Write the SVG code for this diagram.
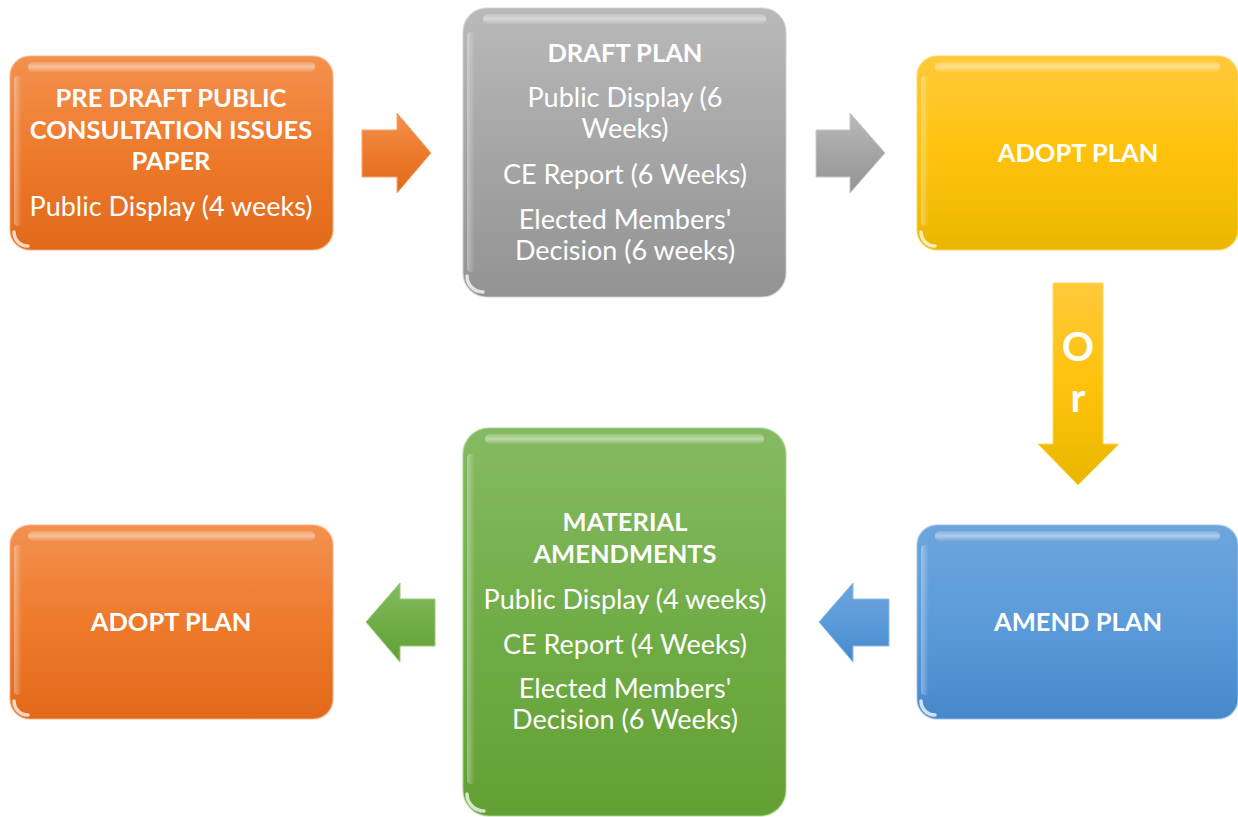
<svg xmlns="http://www.w3.org/2000/svg" width="1238" height="817" viewBox="0 0 1238 817">
  <defs>
    <linearGradient id="gOrange" x1="0" y1="0" x2="0" y2="1">
      <stop offset="0" stop-color="#F3914F"/>
      <stop offset="0.5" stop-color="#EE7A2C"/>
      <stop offset="1" stop-color="#E2691A"/>
    </linearGradient>
    <linearGradient id="gGray" x1="0" y1="0" x2="0" y2="1">
      <stop offset="0" stop-color="#B9B9B9"/>
      <stop offset="0.5" stop-color="#A5A5A5"/>
      <stop offset="1" stop-color="#939393"/>
    </linearGradient>
    <linearGradient id="gYellow" x1="0" y1="0" x2="0" y2="1">
      <stop offset="0" stop-color="#FFC93A"/>
      <stop offset="0.5" stop-color="#FFC20C"/>
      <stop offset="1" stop-color="#E9B700"/>
    </linearGradient>
    <linearGradient id="gBlue" x1="0" y1="0" x2="0" y2="1">
      <stop offset="0" stop-color="#6DA5DC"/>
      <stop offset="0.5" stop-color="#5B9BD9"/>
      <stop offset="1" stop-color="#4688CB"/>
    </linearGradient>
    <linearGradient id="gGreen" x1="0" y1="0" x2="0" y2="1">
      <stop offset="0" stop-color="#86BA62"/>
      <stop offset="0.5" stop-color="#71AD47"/>
      <stop offset="1" stop-color="#62A033"/>
    </linearGradient>
    <linearGradient id="gShine" x1="0" y1="0" x2="0" y2="1">
      <stop offset="0" stop-color="#FFFFFF" stop-opacity="0.15"/>
      <stop offset="0.5" stop-color="#FFFFFF" stop-opacity="0.45"/>
      <stop offset="1" stop-color="#FFFFFF" stop-opacity="0.05"/>
    </linearGradient>
    <linearGradient id="gSide" x1="0" y1="0" x2="1" y2="0">
      <stop offset="0" stop-color="#FFFFFF" stop-opacity="0.35"/>
      <stop offset="1" stop-color="#FFFFFF" stop-opacity="0"/>
    </linearGradient>
  </defs>
  <style>
    text { font-family: Lato, "Open Sans", "Liberation Sans", sans-serif; fill: #FFFFFF; text-anchor: middle; }
    .h { font-weight: bold; font-size: 25.5px; }
    .t { font-size: 27px; }
    .or { font-weight: bold; font-size: 40px; }
    .edge { fill: none; stroke-width: 1.5; stroke-opacity: 0.6; }
    .shine { fill: url(#gShine); }
    .side { fill: url(#gSide); }
    .spot { fill: none; stroke: #FFFFFF; stroke-width: 3.5; stroke-opacity: 0.75; stroke-linecap: round; }
  </style>

  <rect width="1238" height="817" fill="#FFFFFF"/>

  <!-- connectors -->
  <g id="connectors">
    <path d="M362,130 H397 V113 L431,153 L397,193 V177 H362 Z" fill="url(#gOrange)" stroke="#F6A56C" stroke-width="1"/>
    <path d="M816,130 H850 V113 L885,153 L850,193 V177 H816 Z" fill="url(#gGray)" stroke="#C8C8C8" stroke-width="1"/>
    <path d="M1053,283 H1103 V444 H1119 L1078,485 L1038,444 H1053 Z" fill="url(#gYellow)" stroke="#FFD85A" stroke-width="1"/>
    <text class="or" x="1078" y="361">O</text>
    <text class="or" x="1078" y="412">r</text>
    <path d="M889,599 H853 V583 L819,622 L853,662 V646 H889 Z" fill="url(#gBlue)" stroke="#8DBBE8" stroke-width="1"/>
    <path d="M435,599 H400 V583 L366,622 L400,662 V646 H435 Z" fill="url(#gGreen)" stroke="#9CCB7C" stroke-width="1"/>
  </g>

  <!-- pre-draft consultation -->
  <g id="pre-draft">
    <rect x="10" y="56" width="323" height="194" rx="20" fill="url(#gOrange)"/>
    <rect x="10" y="56" width="323" height="194" rx="20" class="edge" stroke="#F7B384"/>
    <rect x="28" y="62" width="287" height="10" rx="5" class="shine"/>
    <rect x="14" y="76" width="8" height="150" rx="4" class="side"/>
    <path d="M14,232 A14,14 0 0 0 28,246" class="spot"/>
    <text class="h" x="171" y="107">PRE DRAFT PUBLIC</text>
    <text class="h" x="171" y="139">CONSULTATION ISSUES</text>
    <text class="h" x="171" y="170">PAPER</text>
    <text class="t" x="171" y="216">Public Display (4 weeks)</text>
  </g>

  <!-- draft plan -->
  <g id="draft-plan">
    <rect x="463" y="8" width="323" height="289" rx="24" fill="url(#gGray)"/>
    <rect x="463" y="8" width="323" height="289" rx="24" class="edge" stroke="#D0D0D0"/>
    <rect x="483" y="14" width="283" height="10" rx="5" class="shine"/>
    <rect x="467" y="32" width="8" height="240" rx="4" class="side"/>
    <path d="M467,276 A16,16 0 0 0 483,292" class="spot"/>
    <text class="h" x="625" y="62">DRAFT PLAN</text>
    <text class="t" x="625" y="107">Public Display (6</text>
    <text class="t" x="625" y="138">Weeks)</text>
    <text class="t" x="625" y="184">CE Report (6 Weeks)</text>
    <text class="t" x="625" y="229">Elected Members'</text>
    <text class="t" x="625" y="260">Decision (6 weeks)</text>
  </g>

  <!-- adopt plan (top) -->
  <g id="adopt-plan-top">
    <rect x="917" y="56" width="321" height="194" rx="20" fill="url(#gYellow)"/>
    <rect x="917" y="56" width="321" height="194" rx="20" class="edge" stroke="#FFD65A"/>
    <rect x="935" y="62" width="285" height="10" rx="5" class="shine"/>
    <rect x="921" y="76" width="8" height="150" rx="4" class="side"/>
    <path d="M921,232 A14,14 0 0 0 935,246" class="spot"/>
    <text class="h" x="1078" y="162">ADOPT PLAN</text>
  </g>

  <!-- amend plan -->
  <g id="amend-plan">
    <rect x="917" y="525" width="321" height="194" rx="20" fill="url(#gBlue)"/>
    <rect x="917" y="525" width="321" height="194" rx="20" class="edge" stroke="#9CC4EC"/>
    <rect x="935" y="531" width="285" height="10" rx="5" class="shine"/>
    <rect x="921" y="545" width="8" height="150" rx="4" class="side"/>
    <path d="M921,701 A14,14 0 0 0 935,715" class="spot"/>
    <text class="h" x="1078" y="631">AMEND PLAN</text>
  </g>

  <!-- material amendments -->
  <g id="material-amendments">
    <rect x="463" y="428" width="323" height="388" rx="26" fill="url(#gGreen)"/>
    <rect x="463" y="428" width="323" height="388" rx="26" class="edge" stroke="#A8D48A"/>
    <rect x="485" y="434" width="279" height="10" rx="5" class="shine"/>
    <rect x="467" y="454" width="8" height="330" rx="4" class="side"/>
    <path d="M467,794 A17,17 0 0 0 484,811" class="spot"/>
    <text class="h" x="625" y="531">MATERIAL</text>
    <text class="h" x="625" y="563">AMENDMENTS</text>
    <text class="t" x="625" y="609">Public Display (4 weeks)</text>
    <text class="t" x="625" y="654">CE Report (4 Weeks)</text>
    <text class="t" x="625" y="698">Elected Members'</text>
    <text class="t" x="625" y="729">Decision (6 Weeks)</text>
  </g>

  <!-- adopt plan (bottom) -->
  <g id="adopt-plan-bottom">
    <rect x="10" y="525" width="323" height="194" rx="20" fill="url(#gOrange)"/>
    <rect x="10" y="525" width="323" height="194" rx="20" class="edge" stroke="#F7B384"/>
    <rect x="28" y="531" width="287" height="10" rx="5" class="shine"/>
    <rect x="14" y="545" width="8" height="150" rx="4" class="side"/>
    <path d="M14,701 A14,14 0 0 0 28,715" class="spot"/>
    <text class="h" x="171" y="631">ADOPT PLAN</text>
  </g>
</svg>
